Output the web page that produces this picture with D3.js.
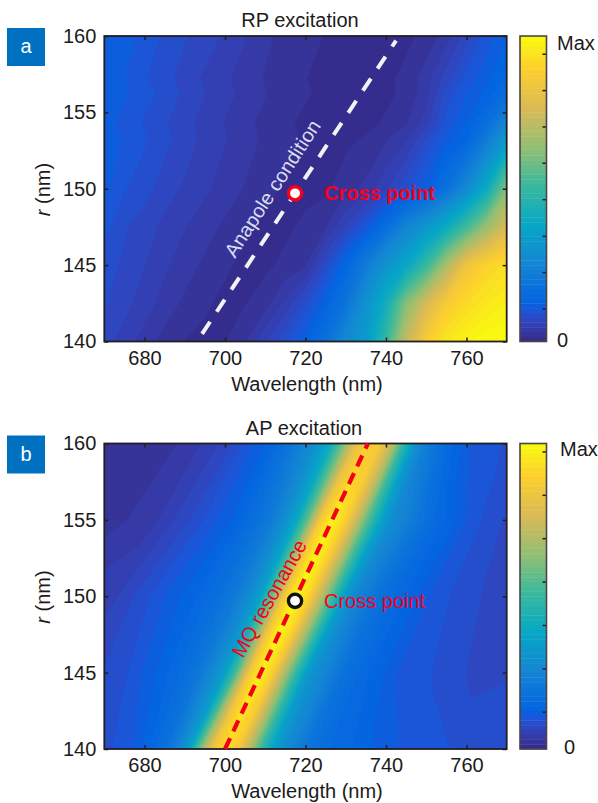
<!DOCTYPE html>
<html>
<head>
<meta charset="utf-8">
<script src="https://cdn.jsdelivr.net/npm/d3@7"></script>
<style>
body { margin: 0; background: #fff; }
text { font-family: "Liberation Sans", Arial, sans-serif; font-size: 20px; fill: #1c1a1a; }
.domain { display: none; }
.tick line { stroke: #231f20; stroke-width: 1.5px; }
</style>
</head>
<body>
<div id="chart"></div>
<script>
// Panel a, RP excitation (0 = min, 1 = max)
var rpColumns = [670, 675, 680, 685, 690, 695, 700, 705, 710, 715, 720, 725, 730, 735, 740, 745, 750, 755, 760, 765, 770];
var rpRadii = [140, 142.5, 145, 147.5, 150, 153.2, 154.3, 156.2, 157.2, 160];
var rpValues = [
    [.07, .055, .04, .025, .015, .012, .015, .03, .06, .09, .125, .18, .27, .33, .5, .72, .88, .95, .98, 1, 1],
    [.08, .068, .055, .04, .028, .018, .012, .015, .025, .05, .085, .13, .19, .3, .42, .62, .76, .87, .92, .95, .97],
    [.085, .075, .063, .05, .038, .028, .018, .012, .012, .02, .03, .08, .14, .22, .31, .38, .5, .68, .84, .9, .93],
    [.1, .08, .07, .058, .048, .038, .028, .018, .012, .012, .02, .03, .065, .105, .17, .25, .32, .4, .52, .65, .77],
    [.115, .095, .085, .07, .06, .05, .04, .03, .02, .014, .01, .012, .025, .035, .06, .09, .12, .18, .27, .4, .62],
    [.118, .108, .096, .083, .07, .058, .048, .038, .028, .019, .014, .01, .012, .018, .03, .045, .08, .115, .14, .22, .33],
    [.115, .105, .092, .08, .068, .056, .046, .036, .026, .018, .013, .01, .008, .01, .018, .03, .055, .1, .125, .17, .26],
    [.12, .112, .1, .088, .075, .063, .052, .042, .032, .024, .017, .013, .01, .008, .012, .02, .04, .085, .11, .13, .165],
    [.118, .11, .095, .085, .07, .06, .05, .04, .03, .022, .016, .012, .01, .008, .012, .02, .04, .07, .1, .12, .145],
    [.125, .115, .105, .09, .08, .07, .06, .048, .035, .025, .02, .015, .012, .01, .01, .012, .02, .04, .07, .1, .125]
];

// Panel b, AP excitation. The streaks follow the resonance, so the columns
// are nm away from the dashed line at each radius.
var apColumns = [-65, -55, -45, -35, -25, -20, -15, -12, -9, -6, -3, 0, 3, 6, 9, 12, 15, 20, 25, 35, 45, 55, 70];
var apRadii = [140, 145, 150, 155, 160];
var apValues = [
    [.08, .08, .08, .08, .1, .13, .18, .24, .35, .62, .84, .93, .87, .7, .5, .36, .28, .2, .16, .13, .105, .095, .09],
    [.05, .06, .07, .085, .13, .16, .21, .27, .35, .55, .84, .98, .88, .68, .48, .32, .27, .19, .15, .105, .09, .07, .08],
    [.04, .05, .06, .1, .14, .17, .22, .27, .36, .58, .86, 1, .9, .72, .52, .34, .25, .19, .15, .1, .08, .06, .06],
    [.02, .025, .04, .08, .125, .165, .22, .28, .38, .58, .86, .98, .9, .74, .54, .38, .28, .22, .16, .1, .07, .07, .07],
    [.02, .02, .035, .07, .13, .19, .26, .32, .42, .6, .8, .88, .86, .72, .48, .3, .22, .15, .11, .09, .09, .09, .09]
];

// Axis ticks
var wavelengthTicks = [680, 700, 720, 740, 760];
var radiusTicks = [140, 145, 150, 155, 160];
var rpBarTicks = [.108, .227, .346, .466, .585, .704, .823, .942];
var apBarTicks = [.122, .264, .406, .548, .69, .832, .974];

// Overlay lines and the crossing point
var rpLineWavelength = [694.3, 742.5];
var rpLineRadius = [140.5, 159.7];
var apLineWavelength = [700, 735.5];
var apLineRadius = [140, 160];
var crossWavelength = 717.4;
var crossRadius = 149.7;

// Colour map stops
var mapStops = [0, 2, 4, 6, 8, 16, 24, 32, 40, 48, 56, 63];
var mapColors = ["#352a87", "#3637a0", "#3243ba", "#2053d4", "#0363e1", "#1485d4", "#06a7c6", "#38b99e", "#92bf73", "#d9ba56", "#fcce2e", "#f9fb0e"];

var svgWidth = 598;
var svgHeight = 803;
var levelCount = 64;

var color = d3.scaleLinear().domain(mapStops.map(function(d) { return d / 63; })).range(mapColors);
var levels = d3.range(levelCount).map(function(i) { return i / levelCount; });

var svg = d3.select("#chart")
    .append("svg")
    .attr("width", svgWidth)
    .attr("height", svgHeight)
    .style("display", "block");

var defs = svg.append("defs");

function drawPanel(p) {

    var xScale = d3.scaleLinear().domain([670, 770]).range([104.3, 506.7]);
    var yScale = d3.scaleLinear().domain([140, 160]).range([p.bottom, p.top]);

    // contour coordinates sit half a cell off the grid indexes
    var colToValue = d3.scaleLinear()
        .domain(p.columns.map(function(d, i) { return i + .5; }))
        .range(p.columns);
    var rowToRadius = d3.scaleLinear()
        .domain(p.radii.map(function(d, i) { return i + .5; }))
        .range(p.radii);

    var project = d3.geoTransform({
        point: function(cx, cy) {
            var r = rowToRadius(cy);
            this.stream.point(xScale(colToValue(cx) + p.shift(r)), yScale(r));
        }
    });
    var path = d3.geoPath(project);

    var contours = d3.contours()
        .size([p.columns.length, p.radii.length])
        .thresholds(levels)(d3.merge(p.values));

    defs.append("clipPath")
        .attr("id", p.id + "-clip")
        .append("rect")
        .attr("x", xScale.range()[0])
        .attr("y", p.top)
        .attr("width", xScale.range()[1] - xScale.range()[0])
        .attr("height", p.bottom - p.top);

    var chart = svg.append("g");

    chart.append("g")
        .attr("clip-path", "url(#" + p.id + "-clip)")
        .selectAll("path")
        .data(contours)
        .enter()
        .append("path")
        .attr("d", path)
        .attr("fill", function(d) { return color(d.value + .5 / levelCount); });

    // Axes, ticks point inwards on all four sides
    chart.append("g")
        .attr("transform", "translate(0," + p.bottom + ")")
        .call(d3.axisBottom(xScale).tickValues(wavelengthTicks).tickSize(-4).tickPadding(9));
    chart.append("g")
        .attr("transform", "translate(0," + p.top + ")")
        .call(d3.axisTop(xScale).tickValues(wavelengthTicks).tickSize(-4).tickFormat(""));
    chart.append("g")
        .attr("transform", "translate(" + xScale.range()[0] + ",0)")
        .call(d3.axisLeft(yScale).tickValues(radiusTicks).tickSize(-4).tickPadding(8));
    chart.append("g")
        .attr("transform", "translate(" + xScale.range()[1] + ",0)")
        .call(d3.axisRight(yScale).tickValues(radiusTicks).tickSize(-4).tickFormat(""));

    chart.selectAll(".tick text").style("font-size", "20px").attr("fill", "#1c1a1a");

    chart.append("rect")
        .attr("x", xScale.range()[0])
        .attr("y", p.top)
        .attr("width", xScale.range()[1] - xScale.range()[0])
        .attr("height", p.bottom - p.top)
        .attr("fill", "none")
        .attr("stroke", "#231f20")
        .attr("stroke-width", 1.8);

    // Overlay dashed line
    var line = d3.line()
        .x(function(d) { return xScale(d[0]); })
        .y(function(d) { return yScale(d[1]); });

    chart.append("path")
        .attr("d", line(d3.zip(p.lineWavelength, p.lineRadius)))
        .attr("fill", "none")
        .attr("stroke", p.lineColor)
        .attr("stroke-width", p.lineWidth)
        .attr("stroke-dasharray", p.dash);

    chart.append("circle")
        .attr("cx", xScale(crossWavelength))
        .attr("cy", yScale(crossRadius))
        .attr("r", 6.6)
        .attr("fill", "#fff")
        .attr("stroke", p.ringColor)
        .attr("stroke-width", 3.4);

    chart.append("text")
        .attr("x", 324)
        .attr("y", yScale(crossRadius) + 7)
        .attr("font-weight", p.crossWeight)
        .style("fill", "#f5001c")
        .text("Cross point");

    chart.append("text")
        .attr("transform", "translate(" + p.noteX + "," + p.noteY + ") rotate(" + p.noteAngle + ")")
        .style("fill", p.noteColor)
        .text(p.note);

    // Titles and axis labels
    chart.append("text")
        .attr("x", p.titleX)
        .attr("y", p.top - 9)
        .attr("text-anchor", "middle")
        .text(p.title);

    chart.append("text")
        .attr("x", 307)
        .attr("y", p.bottom + 49)
        .attr("text-anchor", "middle")
        .text("Wavelength (nm)");

    var yLabel = chart.append("text")
        .attr("transform", "translate(50," + (p.top + 153.5) + ") rotate(-90)")
        .attr("text-anchor", "middle");
    yLabel.append("tspan").attr("font-style", "italic").text("r");
    yLabel.append("tspan").text(" (nm)");

    // Panel badge
    chart.append("rect")
        .attr("x", 7)
        .attr("y", p.top - 8)
        .attr("width", 38)
        .attr("height", 38)
        .attr("fill", "#0070c0");

    chart.append("text")
        .attr("x", 26)
        .attr("y", p.top + 17)
        .attr("text-anchor", "middle")
        .style("fill", "#fff")
        .text(p.id);

    // Colour bar
    var barX = 520;
    var barWidth = 26.5;
    var barScale = d3.scaleLinear().domain([0, 1]).range([p.bottom, p.top]);

    chart.append("g")
        .selectAll("rect")
        .data(levels)
        .enter()
        .append("rect")
        .attr("x", barX)
        .attr("y", function(d) { return barScale(d + 1 / levelCount); })
        .attr("width", barWidth)
        .attr("height", function(d) { return barScale(d) - barScale(d + 1 / levelCount) + .4; })
        .attr("fill", function(d) { return color(d + .5 / levelCount); });

    chart.append("g")
        .attr("transform", "translate(" + (barX + barWidth) + ",0)")
        .call(d3.axisRight(barScale).tickValues(p.barTicks).tickSize(-4).tickFormat(""));

    chart.append("rect")
        .attr("x", barX)
        .attr("y", p.top)
        .attr("width", barWidth)
        .attr("height", p.bottom - p.top)
        .attr("fill", "none")
        .attr("stroke", "#4a4546")
        .attr("stroke-width", 1.6);

    chart.append("text")
        .attr("x", p.maxX)
        .attr("y", p.top + p.maxDy)
        .text("Max");

    chart.append("text")
        .attr("x", p.zeroX)
        .attr("y", p.bottom + 5)
        .text("0");
}

var apRidge = d3.scaleLinear().domain(apLineRadius).range(apLineWavelength);

drawPanel({
    id: "a",
    title: "RP excitation",
    titleX: 300,
    top: 36,
    bottom: 341.5,
    columns: rpColumns,
    radii: rpRadii,
    values: rpValues,
    shift: function() { return 0; },
    barTicks: rpBarTicks,
    lineWavelength: rpLineWavelength,
    lineRadius: rpLineRadius,
    lineColor: "#f2f2f2",
    lineWidth: 4,
    dash: "14.5,12",
    ringColor: "#f5001c",
    crossWeight: "bold",
    note: "Anapole condition",
    noteColor: "#dcdcec",
    noteX: 235,
    noteY: 259,
    noteAngle: -57,
    maxX: 557,
    maxDy: 14,
    zeroX: 557
});

drawPanel({
    id: "b",
    title: "AP excitation",
    titleX: 304,
    top: 443.5,
    bottom: 749,
    columns: apColumns,
    radii: apRadii,
    values: apValues,
    shift: apRidge,
    barTicks: apBarTicks,
    lineWavelength: apLineWavelength,
    lineRadius: apLineRadius,
    lineColor: "#f5001c",
    lineWidth: 4.2,
    dash: "12,7.5",
    ringColor: "#111",
    crossWeight: "normal",
    note: "MQ resonance",
    noteColor: "#f5001c",
    noteX: 243,
    noteY: 659,
    noteAngle: -60.5,
    maxX: 560,
    maxDy: 12,
    zeroX: 564
});
</script>
</body>
</html>
